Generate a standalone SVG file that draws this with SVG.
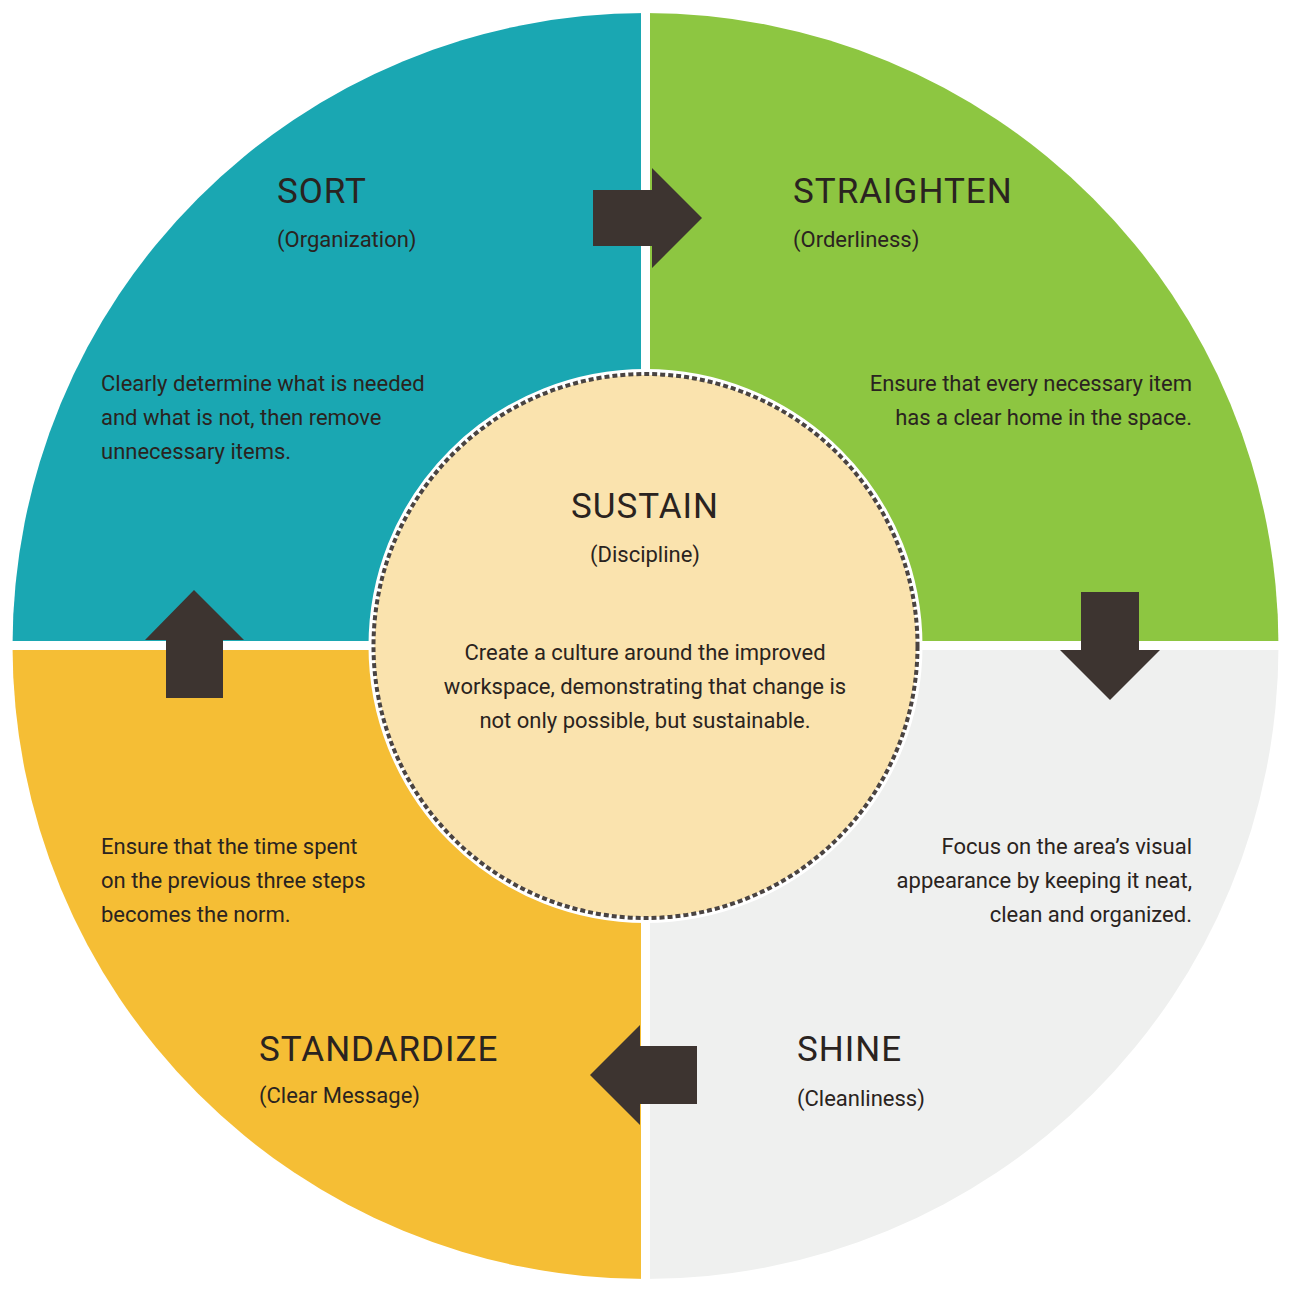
<svg xmlns="http://www.w3.org/2000/svg" width="1293" height="1293" viewBox="0 0 1293 1293">
<style>
.t{font-family:Roboto,"Liberation Sans",sans-serif;fill:#2a2320}
.h{font-size:35px;letter-spacing:1px}
.s{font-size:22px}
.b{font-size:22px}
.ar{fill:#3d3430}
</style>
<defs><clipPath id="c"><circle cx="645.5" cy="646" r="633"/></clipPath></defs>
<rect width="1293" height="1293" fill="#fff"/>
<g clip-path="url(#c)">
<g id="sort"><rect x="0" y="0" width="641" height="641" fill="#1aa7b2"/></g>
<g id="straighten"><rect x="650" y="0" width="643" height="641" fill="#8dc641"/></g>
<g id="shine"><rect x="650" y="650" width="643" height="643" fill="#eff0ef"/></g>
<g id="standardize"><rect x="0" y="650" width="641" height="643" fill="#f5be35"/></g>
</g>
<g id="sustain">
<circle cx="645.5" cy="646" r="274" fill="#fae3ae" stroke="#fff" stroke-width="6"/>
<circle cx="645.5" cy="646" r="272" fill="none" stroke="#4a4442" stroke-width="4" stroke-dasharray="5 3"/>
<text class="t h" x="645" y="518" text-anchor="middle">SUSTAIN</text>
<text class="t s" x="645" y="562" text-anchor="middle">(Discipline)</text>
<text class="t b" x="645" y="660" text-anchor="middle">Create a culture around the improved</text>
<text class="t b" x="645" y="694" text-anchor="middle">workspace, demonstrating that change is</text>
<text class="t b" x="645" y="728" text-anchor="middle">not only possible, but sustainable.</text>
</g>
<g id="connectors">
<path class="ar" d="M593,190H652V168L702,218L652,268V246H593Z"/>
<path class="ar" d="M1081,592H1139V650H1160L1110,700L1060,650H1081Z"/>
<path class="ar" d="M697,1046V1104H640V1125L590,1075L640,1025V1046Z"/>
<path class="ar" d="M166,698V640H145L194,590L244,640H223V698Z"/>
</g>
<g id="labels">
<text class="t h" x="277" y="203">SORT</text>
<text class="t s" x="277" y="247">(Organization)</text>
<text class="t b" x="101" y="391">Clearly determine what is needed</text>
<text class="t b" x="101" y="425">and what is not, then remove</text>
<text class="t b" x="101" y="459">unnecessary items.</text>
<text class="t h" x="793" y="203">STRAIGHTEN</text>
<text class="t s" x="793" y="247">(Orderliness)</text>
<text class="t b" x="1192" y="391" text-anchor="end">Ensure that every necessary item</text>
<text class="t b" x="1192" y="425" text-anchor="end">has a clear home in the space.</text>
<text class="t b" x="1192" y="854" text-anchor="end">Focus on the area’s visual</text>
<text class="t b" x="1192" y="888" text-anchor="end">appearance by keeping it neat,</text>
<text class="t b" x="1192" y="922" text-anchor="end">clean and organized.</text>
<text class="t h" x="797" y="1061">SHINE</text>
<text class="t s" x="797" y="1106">(Cleanliness)</text>
<text class="t b" x="101" y="854">Ensure that the time spent</text>
<text class="t b" x="101" y="888">on the previous three steps</text>
<text class="t b" x="101" y="922">becomes the norm.</text>
<text class="t h" x="259" y="1061">STANDARDIZE</text>
<text class="t s" x="259" y="1103">(Clear Message)</text>
</g>
</svg>
